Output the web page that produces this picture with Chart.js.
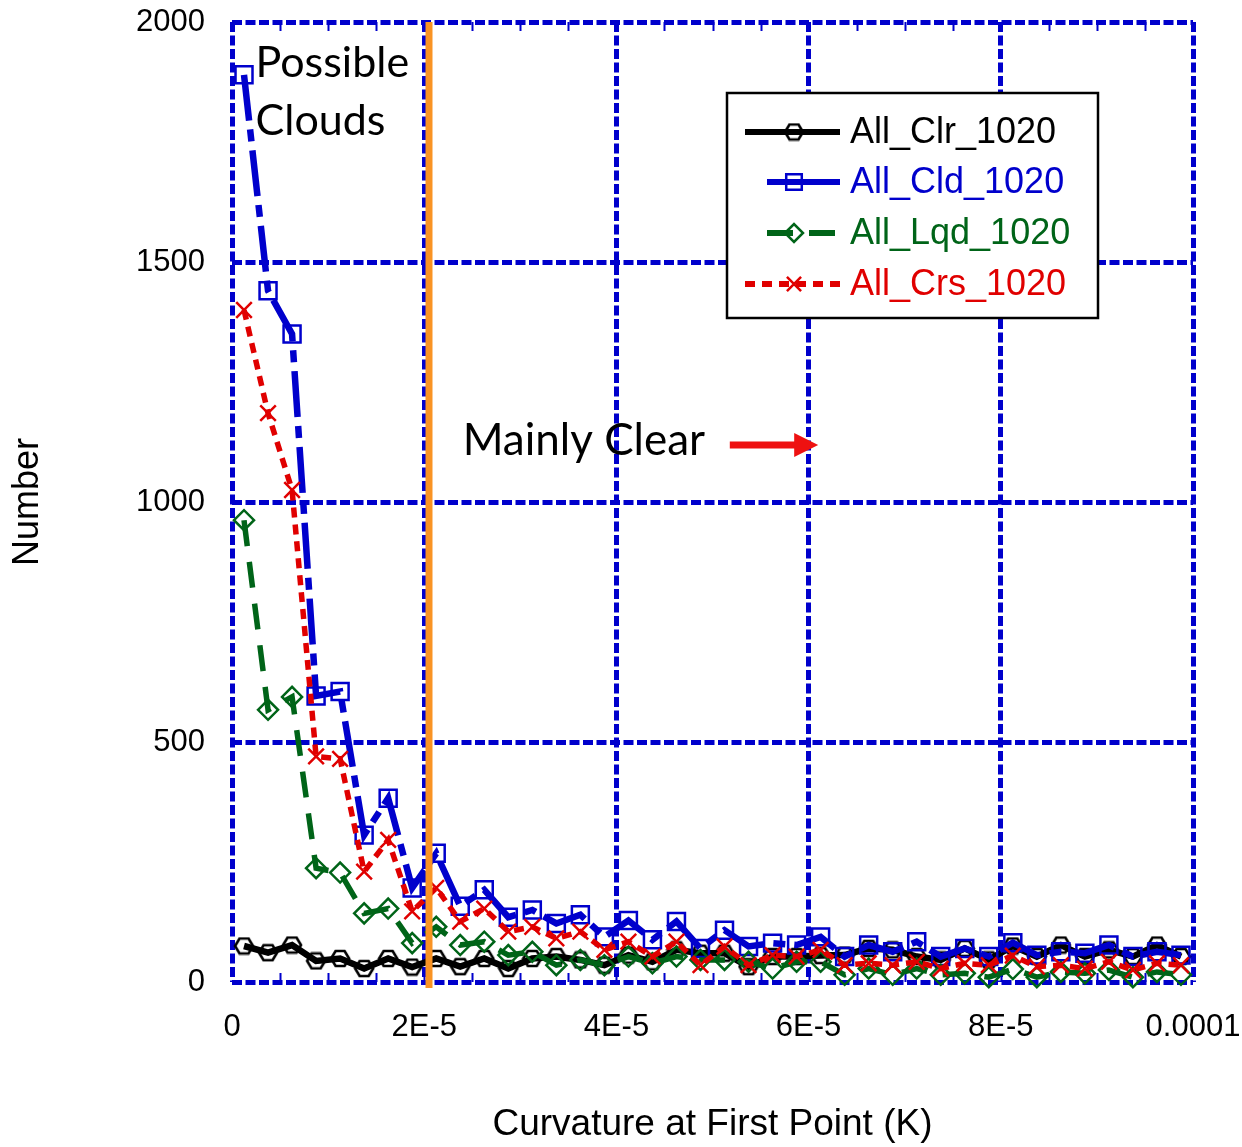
<!DOCTYPE html>
<html>
<head>
<meta charset="utf-8">
<script src="https://cdn.jsdelivr.net/npm/chart.js@4.4.0/dist/chart.umd.min.js"></script>
<style>
  html, body { margin: 0; padding: 0; background: #fff; }
</style>
</head>
<body>
<canvas id="curvatura" width="1242" height="1147"></canvas>
<script>
// bins de curvatura en el primer punto (K)
var curvatura = [1.25e-6, 3.75e-6, 6.25e-6, 8.75e-6, 1.125e-5, 1.375e-5, 1.625e-5, 1.875e-5,
    2.125e-5, 2.375e-5, 2.625e-5, 2.875e-5, 3.125e-5, 3.375e-5, 3.625e-5, 3.875e-5,
    4.125e-5, 4.375e-5, 4.625e-5, 4.875e-5, 5.125e-5, 5.375e-5, 5.625e-5, 5.875e-5,
    6.125e-5, 6.375e-5, 6.625e-5, 6.875e-5, 7.125e-5, 7.375e-5, 7.625e-5, 7.875e-5,
    8.125e-5, 8.375e-5, 8.625e-5, 8.875e-5, 9.125e-5, 9.375e-5, 9.625e-5, 9.875e-5];

var clr_1020 = [75, 61, 77, 44, 49, 28, 49, 31, 49, 32, 49, 28, 49, 53, 46, 35, 56, 42, 67, 60,
    60, 32, 53, 53, 55, 56, 70, 67, 53, 46, 70, 46, 75, 53, 77, 53, 67, 53, 77, 53];
var cld_1020 = [1890, 1440, 1350, 596, 605, 306, 383, 196, 268, 158, 192, 135, 150, 122, 140, 94, 128, 88, 126, 70,
    108, 74, 81, 77, 94, 53, 77, 63, 84, 53, 70, 53, 82, 56, 63, 60, 77, 53, 63, 56];
var lqd_1020 = [962, 567, 594, 237, 228, 143, 153, 81, 115, 77, 84, 56, 63, 35, 46, 35, 53, 39, 53, 46,
    46, 42, 28, 42, 42, 15, 28, 15, 28, 15, 18, 10, 27, 10, 21, 18, 25, 10, 21, 15];
var crs_1020 = [1400, 1185, 1025, 470, 465, 230, 296, 147, 196, 126, 153, 105, 115, 91, 105, 67, 84, 53, 84, 35,
    74, 35, 56, 53, 67, 35, 39, 35, 42, 28, 39, 35, 55, 32, 35, 28, 42, 25, 39, 35];

var xTickValues = [0, 2e-5, 4e-5, 6e-5, 8e-5, 1e-4];
var xTickLabels = ['0', '2E-5', '4E-5', '6E-5', '8E-5', '0.0001'];
var yTickValues = [0, 500, 1000, 1500, 2000];

var limiteNubes = 2.05e-5;   // linea naranja
var flechaDesde = 5.18e-5, flechaHasta = 6.1e-5, flechaY = 1119;

var AZUL = '#0000cc', VERDE = '#006418', ROJO = '#e00000', NARANJA = '#f99324';

// marcador hexagonal para la serie Clr
function hexagono(){
    var c = document.createElement('canvas');
    c.width = 22; c.height = 19;
    var g = c.getContext('2d');
    g.strokeStyle = '#000';
    g.lineWidth = 2.6;
    g.beginPath();
    g.moveTo(2, 9.5); g.lineTo(6.5, 2); g.lineTo(15.5, 2);
    g.lineTo(20, 9.5); g.lineTo(15.5, 17); g.lineTo(6.5, 17);
    g.closePath();
    g.stroke();
    return c;
}

function serie(label, data, color, width, dash, style, radius, order){
    return {
        label: label,
        data: data.map(function(v, i){ return {x: curvatura[i], y: v}; }),
        borderColor: color,
        borderWidth: width,
        borderDash: dash,
        pointStyle: style,
        pointRadius: radius,
        pointBorderColor: color,
        pointBackgroundColor: 'rgba(0,0,0,0)',
        pointBorderWidth: 2.5,
        tension: 0,
        clip: false,
        order: order
    };
}

var datasets = [
    serie('All_Clr_1020', clr_1020, '#000000', 6.5, [], hexagono(), 9, 3),
    serie('All_Cld_1020', cld_1020, AZUL, 6.5, [46, 9, 12, 9], 'rect', 12, 2),
    serie('All_Lqd_1020', lqd_1020, VERDE, 5.5, [26, 16], 'rectRot', 10, 1),
    serie('All_Crs_1020', crs_1020, ROJO, 5.5, [10, 7], 'crossRot', 11, 0)
];

// marcas menores, linea naranja, textos y flecha
var anotaciones = {
    id: 'anotaciones',
    beforeDatasetsDraw: function(chart){
        var ctx = chart.ctx, x = chart.scales.x, a = chart.chartArea;
        ctx.save();
        ctx.strokeStyle = AZUL;
        ctx.lineWidth = 2;
        for (var v = 5e-6; v < 1e-4; v += 5e-6) {
            var px = Math.round(x.getPixelForValue(v)) + 0.5;
            ctx.beginPath();
            ctx.moveTo(px, a.top); ctx.lineTo(px, a.top + 9);
            ctx.moveTo(px, a.bottom); ctx.lineTo(px, a.bottom - 9);
            ctx.stroke();
        }
        ctx.restore();
    },
    afterDatasetsDraw: function(chart){
        var ctx = chart.ctx, x = chart.scales.x, y = chart.scales.y, a = chart.chartArea;
        ctx.save();

        var xn = x.getPixelForValue(limiteNubes);
        ctx.strokeStyle = NARANJA;
        ctx.lineWidth = 7;
        ctx.beginPath();
        ctx.moveTo(xn, a.top);
        ctx.lineTo(xn, a.bottom + 6);
        ctx.stroke();

        ctx.fillStyle = '#000';
        ctx.font = '43px Lato';
        ctx.textBaseline = 'alphabetic';
        ctx.textAlign = 'left';
        ctx.fillText('Possible', x.getPixelForValue(2.45e-6), y.getPixelForValue(1885));
        ctx.fillText('Clouds', x.getPixelForValue(2.45e-6), y.getPixelForValue(1765));
        ctx.font = '44px Lato';
        ctx.fillText('Mainly Clear', x.getPixelForValue(2.4e-5), y.getPixelForValue(1098));

        var x0 = x.getPixelForValue(flechaDesde), x1 = x.getPixelForValue(flechaHasta);
        var yf = y.getPixelForValue(flechaY);
        ctx.strokeStyle = '#ee1111';
        ctx.fillStyle = '#ee1111';
        ctx.lineWidth = 7;
        ctx.beginPath();
        ctx.moveTo(x0, yf); ctx.lineTo(x1 - 20, yf);
        ctx.stroke();
        ctx.beginPath();
        ctx.moveTo(x1 - 24, yf - 12); ctx.lineTo(x1, yf); ctx.lineTo(x1 - 24, yf + 12);
        ctx.closePath();
        ctx.fill();
        ctx.restore();
    }
};

// leyenda en recuadro
var leyenda = {
    id: 'leyenda',
    afterDraw: function(chart){
        var ctx = chart.ctx;
        var caja = {x: 727, y: 93, w: 371, h: 225};
        var filas = [
            {y: 132, x0: 745, dash: []},
            {y: 182, x0: 767, dash: []},
            {y: 233, x0: 767, dash: [26, 16]},
            {y: 284, x0: 745, dash: [10, 7]}
        ];
        var colores = ['#000000', AZUL, VERDE, ROJO];
        ctx.save();
        ctx.fillStyle = '#fff';
        ctx.fillRect(caja.x, caja.y, caja.w, caja.h);
        ctx.strokeStyle = '#000';
        ctx.lineWidth = 2.5;
        ctx.strokeRect(caja.x, caja.y, caja.w, caja.h);

        ctx.font = '36px "Liberation Sans", Arial';
        ctx.textBaseline = 'middle';
        ctx.textAlign = 'left';
        chart.data.datasets.forEach(function(ds, i){
            var f = filas[i];
            ctx.save();
            ctx.strokeStyle = ds.borderColor;
            ctx.lineWidth = 6;
            ctx.setLineDash(f.dash);
            ctx.beginPath();
            ctx.moveTo(f.x0, f.y); ctx.lineTo(840, f.y);
            ctx.stroke();
            ctx.restore();
            ctx.strokeStyle = ds.borderColor;
            ctx.fillStyle = 'rgba(0,0,0,0)';
            ctx.lineWidth = 2.5;
            Chart.helpers.drawPoint(ctx, {
                pointStyle: ds.pointStyle, radius: ds.pointRadius - 1, rotation: 0, borderWidth: 2.5
            }, 794, f.y);
            ctx.fillStyle = colores[i];
            ctx.fillText(ds.label, 850, f.y + 1);
        });
        ctx.restore();
    }
};

var rejilla = {
    color: AZUL,
    lineWidth: 5,
    drawTicks: false
};

// sin relleno automatico: el area del grafico queda fija
function sinRelleno(scale){
    scale.paddingTop = 0;
    scale.paddingBottom = 0;
    scale.paddingLeft = 0;
    scale.paddingRight = 0;
}

new Chart(document.getElementById('curvatura'), {
    type: 'line',
    data: { datasets: datasets },
    options: {
        responsive: false,
        animation: false,
        events: [],
        layout: { autoPadding: false, padding: { top: 22, right: 49, left: 0, bottom: 0 } },
        plugins: { legend: { display: false }, tooltip: { enabled: false } },
        scales: {
            x: {
                type: 'linear',
                min: 0,
                max: 1e-4,
                afterBuildTicks: function(scale){
                    scale.ticks = xTickValues.map(function(v){ return {value: v}; });
                },
                afterFit: function(scale){ scale.height = 165; sinRelleno(scale); },
                grid: rejilla,
                border: { display: false, dash: [10, 3.5] },
                ticks: {
                    padding: 27,
                    color: '#000',
                    maxRotation: 0,
                    font: { family: '"Liberation Sans", Arial', size: 31 },
                    callback: function(value, index){ return xTickLabels[index]; }
                },
                title: {
                    display: true,
                    text: 'Curvature at First Point (K)',
                    color: '#000',
                    padding: { top: 0, bottom: 0 },
                    font: { family: '"Liberation Sans", Arial', size: 37 }
                }
            },
            y: {
                type: 'linear',
                min: 0,
                max: 2000,
                afterBuildTicks: function(scale){
                    scale.ticks = yTickValues.map(function(v){ return {value: v}; });
                },
                afterFit: function(scale){ scale.width = 232; sinRelleno(scale); },
                grid: rejilla,
                border: { display: false, dash: [10, 3.5] },
                ticks: {
                    padding: 27,
                    color: '#000',
                    font: { family: '"Liberation Sans", Arial', size: 31 },
                    callback: function(value){ return String(value); }
                },
                title: {
                    display: true,
                    text: 'Number',
                    color: '#000',
                    padding: { top: 6, bottom: 0 },
                    font: { family: '"Liberation Sans", Arial', size: 36 }
                }
            }
        }
    },
    plugins: [anotaciones, leyenda]
});
</script>
</body>
</html>
